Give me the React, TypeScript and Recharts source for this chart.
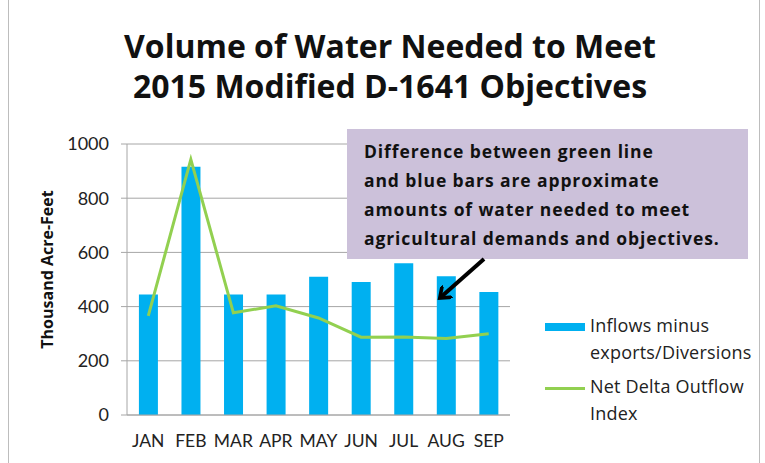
import React from 'react';
import { ComposedChart, Bar, Line, XAxis, YAxis, CartesianGrid } from 'recharts';

const months = ['JAN', 'FEB', 'MAR', 'APR', 'MAY', 'JUN', 'JUL', 'AUG', 'SEP'];
const inflowsMinusExports = [445, 916, 445, 445, 510, 491, 560, 512, 454];
const netDeltaOutflow = [366, 943, 377, 403, 358, 287, 288, 282, 300];
const yTicks = [0, 200, 400, 600, 800, 1000];
const boundaryTicks = [0, 1, 2, 3, 4, 5, 6, 7, 8, 9];
const seriesNames = ['Inflows minus exports/Diversions', 'Net Delta Outflow Index'];

const data = months.map((m, i) => ({
  month: m,
  inflows: inflowsMinusExports[i],
  ndoi: netDeltaOutflow[i],
}));

const FONT = 'Lato, "Open Sans", sans-serif';
const OS = '"Open Sans", sans-serif';

const LegendBox = () => (
  <div style={{ position: 'absolute', left: 545, top: 312, width: 218, fontFamily: OS, fontSize: 18, letterSpacing: 0.2, color: '#222', lineHeight: '27px', whiteSpace: 'nowrap' }}>
    <div style={{ display: 'flex', alignItems: 'flex-start' }}>
      <div style={{ width: 40, height: 8, background: '#00B0F0', marginTop: 11, marginRight: 5 }} />
      <div>{'Inflows minus'}<br />{'exports/Diversions'}</div>
    </div>
    <div style={{ display: 'flex', alignItems: 'flex-start', marginTop: 7 }}>
      <div style={{ width: 40, height: 3, background: '#92D050', marginTop: 14, marginRight: 5 }} />
      <div>{'Net Delta Outflow'}<br />{'Index'}</div>
    </div>
  </div>
);

const YLabel = (props: any) => {
  const vb = props.viewBox || {};
  const cx = (vb.x || 0) + 47;
  const cy = (vb.y || 0) + (vb.height || 0) / 2 - 10;
  return (
    <text x={cx} y={cy} transform={`rotate(-90 ${cx} ${cy})`} textAnchor="middle" dominantBaseline="central" fontFamily={OS} fontWeight={700} fontSize={16} fill="#111">
      Thousand Acre-Feet
    </text>
  );
};

export default function App() {
  return (
    <div style={{ position: 'fixed', left: 0, top: 0, width: 765, height: 463, background: '#fff', overflow: 'hidden' }}>
      <div style={{ position: 'absolute', left: 8, top: 0, width: 752, height: 463, borderLeft: '1px solid #bdbdbd', borderRight: '1px solid #bdbdbd', boxSizing: 'border-box' }} />
      <div style={{ position: 'absolute', left: 0, top: 26, width: 780, textAlign: 'center', fontFamily: OS, fontWeight: 700, fontSize: 32, lineHeight: '40px', color: '#111' }}>
        Volume of Water Needed to Meet<br />2015 Modified D-1641 Objectives
      </div>
      <ComposedChart
        width={765}
        height={463}
        data={data}
        margin={{ top: 144, right: 255, bottom: 18, left: 0 }}
        barCategoryGap="28%"
        style={{ position: 'absolute', left: 0, top: 0 }}
      >
        <CartesianGrid horizontal vertical={false} stroke="#a6a6a6" strokeWidth={1} />
        <XAxis
          xAxisId="bounds"
          type="number"
          domain={[0, 9]}
          ticks={boundaryTicks}
          allowDataOverflow
          height={0}
          axisLine={false}
          tick={false}
          tickSize={6}
          tickLine={{ stroke: '#a6a6a6' }}
        />
        <XAxis
          dataKey="month"
          xAxisId="cat"
          height={30}
          stroke="#a6a6a6"
          tickLine={false}
          tickMargin={14}
          interval={0}
          tick={{ fill: '#222', fontFamily: FONT, fontSize: 17.5 }}
        />
        <YAxis
          width={127}
          domain={[0, 1000]}
          ticks={yTicks}
          stroke="#a6a6a6"
          tickSize={6}
          tickMargin={12}
          tick={{ fill: '#222', fontFamily: FONT, fontSize: 18 }}
          label={<YLabel />}
        />
        <Bar dataKey="inflows" xAxisId="cat" name={seriesNames[0]} fill="#00B0F0" isAnimationActive={false} />
        <Line dataKey="ndoi" xAxisId="cat" name={seriesNames[1]} type="linear" stroke="#92D050" strokeWidth={3} dot={false} isAnimationActive={false} />
      </ComposedChart>
      <LegendBox />
      <div style={{ position: 'absolute', left: 347, top: 129, width: 401, height: 130, background: '#CCC1DA', boxSizing: 'border-box', padding: '8px 0 0 17px', fontFamily: OS, fontWeight: 700, fontSize: 17.5, letterSpacing: 0.9, lineHeight: '29px', color: '#111', whiteSpace: 'nowrap' }}>
        Difference between green line<br />and blue bars are approximate<br />amounts of water needed to meet<br />agricultural demands and objectives.
      </div>
      <svg width={765} height={463} style={{ position: 'absolute', left: 0, top: 0, pointerEvents: 'none' }}>
        <defs>
          <marker id="ah" markerWidth="4" markerHeight="4" refX="2.2" refY="2" orient="auto" markerUnits="strokeWidth">
            <path d="M0,0 L2.6,2 L0,4" fill="none" stroke="#000" strokeWidth="0.9" />
          </marker>
        </defs>
        <line x1={484} y1={259} x2={441} y2={297} stroke="#000" strokeWidth={4} markerEnd="url(#ah)" />
      </svg>
    </div>
  );
}
